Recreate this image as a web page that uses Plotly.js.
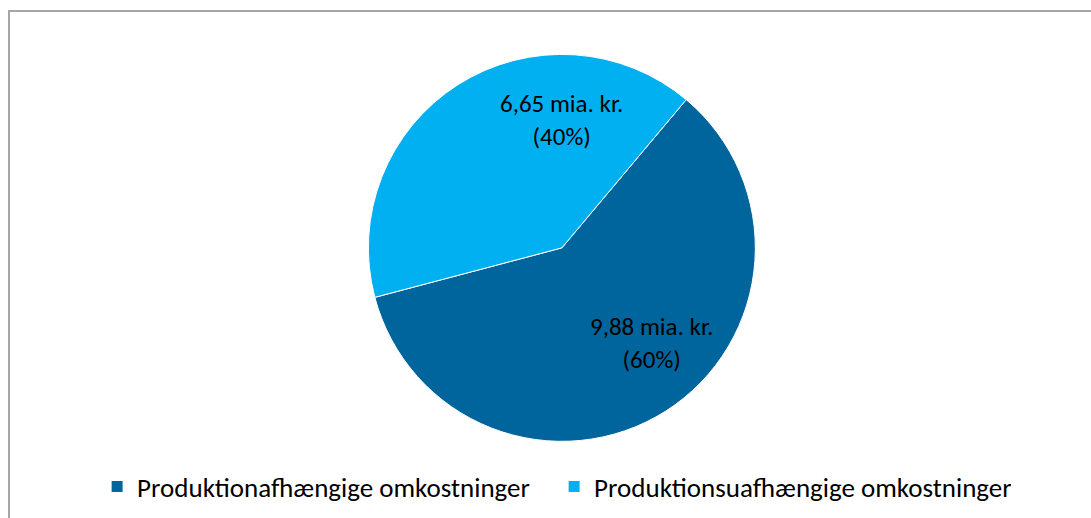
<!DOCTYPE html>
<html>
<head>
<meta charset="utf-8">
<script src="https://cdn.plot.ly/plotly-3.0.1.min.js"></script>
<style>
  body { margin: 0; background: #fff; }
  #chart { width: 1091px; height: 518px; }
</style>
</head>
<body>
<div id="chart"></div>
<script>
// omkostninger i mia. kr.
const labels = ['Produktionafhængige omkostninger', 'Produktionsuafhængige omkostninger'];
const values = [9.88, 6.65];
const valueText = ['9,88', '6,65'];
const pctText = ['60%', '40%'];
const colors = ['#00659C', '#00B0F0'];

// hvor dataetiketterne står (paper-koordinater)
const labelX = [0.597, 0.515];
const labelY = [0.338, 0.768];

const font = 'Calibri, Carlito, Lato, sans-serif';

const trace = {
  type: 'pie',
  labels: labels,
  values: values,
  textinfo: 'none',
  sort: false,
  direction: 'clockwise',
  rotation: 40,
  marker: { colors: colors, line: { color: '#ffffff', width: 1 } },
  hoverinfo: 'label+value+percent',
  domain: { x: [0.3, 0.73], y: [0.148, 0.895] }
};

const annotations = labels.map((l, i) => ({
  xref: 'paper', yref: 'paper',
  x: labelX[i], y: labelY[i],
  xanchor: 'center', yanchor: 'middle',
  showarrow: false,
  text: valueText[i] + ' mia. kr.<br>(' + pctText[i] + ')',
  font: { family: font, size: 25, color: '#000000' }
}));

const layout = {
  width: 1091,
  height: 518,
  margin: { l: 0, r: 0, t: 0, b: 0, autoexpand: false },
  paper_bgcolor: '#ffffff',
  font: { family: font, color: '#000000' },
  showlegend: true,
  legend: {
    orientation: 'h',
    x: 0.089, xanchor: 'left',
    y: 0.06, yanchor: 'middle',
    font: { family: font, size: 27, color: '#000000' },
    entrywidth: 412, entrywidthmode: 'pixels',
    traceorder: 'normal'
  },
  annotations: annotations,
  shapes: [{
    type: 'rect', xref: 'paper', yref: 'paper',
    x0: 9 / 1091, x1: 1.02, y0: -0.02, y1: 1 - 11 / 518,
    line: { color: '#a6a6a6', width: 2 }
  }]
};

Plotly.newPlot('chart', [trace], layout, { displayModeBar: false });
</script>
</body>
</html>
